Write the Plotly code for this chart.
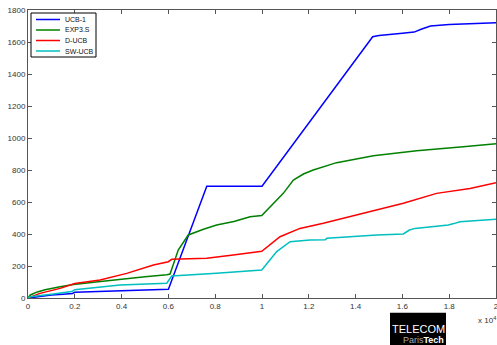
import plotly.graph_objects as go

# x in units of 1e4
ucb_x = [0, 0.05, 0.1, 0.15, 0.19, 0.2, 0.3, 0.4, 0.5, 0.6, 0.764, 1.0, 1.473, 1.5, 1.6, 1.65, 1.68, 1.72, 1.8, 1.9, 2.0]
ucb_y = [0, 10, 18, 24, 28, 36, 40, 47, 52, 55, 698, 698, 1633, 1640, 1655, 1662, 1680, 1700, 1710, 1716, 1720]

exp_x = [0, 0.01, 0.04, 0.073, 0.137, 0.194, 0.3, 0.393, 0.5, 0.593, 0.607, 0.642, 0.685, 0.75, 0.806, 0.88, 0.949, 0.999, 1.091, 1.134, 1.177, 1.219, 1.319, 1.476, 1.661, 1.86, 2.0]
exp_y = [0, 19, 38, 52, 71, 85, 101, 117, 133, 146, 150, 300, 394, 430, 456, 478, 508, 516, 654, 737, 775, 800, 846, 889, 920, 946, 964]

ducb_x = [0, 0.051, 0.137, 0.2, 0.308, 0.422, 0.536, 0.6, 0.614, 0.764, 0.877, 0.999, 1.077, 1.162, 1.262, 1.376, 1.497, 1.604, 1.746, 1.889, 2.0]
ducb_y = [0, 29, 60, 90, 112, 154, 206, 227, 242, 248, 269, 292, 383, 435, 467, 508, 554, 592, 654, 685, 720]

sw_x = [0, 0.01, 0.108, 0.187, 0.2, 0.393, 0.593, 0.614, 0.806, 0.906, 0.999, 1.063, 1.12, 1.205, 1.27, 1.277, 1.49, 1.604, 1.63, 1.654, 1.796, 1.82, 1.846, 2.0]
sw_y = [0, 8, 25, 40, 52, 81, 92, 137, 154, 164, 175, 290, 352, 362, 364, 373, 394, 400, 425, 435, 456, 465, 477, 492]

x_ticks = [0, 0.2, 0.4, 0.6, 0.8, 1, 1.2, 1.4, 1.6, 1.8, 2]
x_tick_labels = ["0", "0.2", "0.4", "0.6", "0.8", "1", "1.2", "1.4", "1.6", "1.8", "2"]
y_ticks = [0, 200, 400, 600, 800, 1000, 1200, 1400, 1600, 1800]

series = [
    ("UCB-1", ucb_x, ucb_y, "#0000ff"),
    ("EXP3.S", exp_x, exp_y, "#008000"),
    ("D-UCB", ducb_x, ducb_y, "#ff0000"),
    ("SW-UCB", sw_x, sw_y, "#00bfbf"),
]

W, H = 497, 345
L, R, T, B = 28, 1, 10, 47
PW, PH = W - L - R, H - T - B


def px(xp):
    return (xp - L) / PW


def py(yp):
    return (H - B - yp) / PH


FONT = "Liberation Sans, Arial"

fig = go.Figure()
for name, xs, ys, c in series:
    fig.add_trace(go.Scatter(x=xs, y=ys, mode="lines", name=name, showlegend=False,
                             line=dict(color=c, width=1.5)))

axis_common = dict(showgrid=False, zeroline=False, showline=True, linecolor="#555",
                   linewidth=1, mirror="ticks", ticks="inside", ticklen=4,
                   tickcolor="#555", automargin=False, ticklabeloverflow="allow",
                   tickfont=dict(size=8, color="#333", family=FONT))
fig.update_xaxes(range=[0, 2], tickvals=x_ticks, ticktext=x_tick_labels, **axis_common)
fig.update_yaxes(range=[0, 1800], tickvals=y_ticks, **axis_common)

shapes = []
annotations = []

# legend box (drawn manually to match compact MATLAB legend)
shapes.append(dict(type="rect", xref="paper", yref="paper",
                   x0=px(31), x1=px(96), y0=py(57), y1=py(13),
                   fillcolor="white", line=dict(color="black", width=1), layer="above"))
for i, (name, xs, ys, c) in enumerate(series):
    yy = 19.5 + i * 10.5
    shapes.append(dict(type="line", xref="paper", yref="paper",
                       x0=px(36), x1=px(60), y0=py(yy), y1=py(yy),
                       line=dict(color=c, width=1.5), layer="above"))
    annotations.append(dict(text=name, xref="paper", yref="paper", x=px(63), y=py(yy),
                            xanchor="left", yanchor="middle", showarrow=False,
                            font=dict(size=7, color="#111", family=FONT)))

# logo
shapes.append(dict(type="rect", xref="paper", yref="paper",
                   x0=px(390), x1=px(446), y0=py(345), y1=py(312.7),
                   fillcolor="black", line=dict(width=0), layer="above"))
annotations += [
    dict(text="TELECOM", xref="paper", yref="paper", x=px(418), y=py(328.5),
         xanchor="center", yanchor="middle", showarrow=False,
         font=dict(size=11, color="white", family=FONT)),
    dict(text="<span style='color:#aaaaaa'>Paris</span><b>Tech</b>", xref="paper", yref="paper",
         x=px(423), y=py(339.5), xanchor="center", yanchor="middle", showarrow=False,
         font=dict(size=9, color="white", family=FONT)),
    dict(text="x 10<sup>4</sup>", xref="paper", yref="paper", x=px(487), y=py(320),
         xanchor="center", yanchor="middle", showarrow=False,
         font=dict(size=8, color="#333", family=FONT)),
]

fig.update_layout(
    width=W, height=H,
    margin=dict(l=L, r=R, t=T, b=B),
    plot_bgcolor="white", paper_bgcolor="white",
    showlegend=False,
    shapes=shapes, annotations=annotations,
)

fig.write_html("out.html", config={"displayModeBar": False},
               post_script="document.body.style.margin='0';document.body.style.overflow='hidden';")
